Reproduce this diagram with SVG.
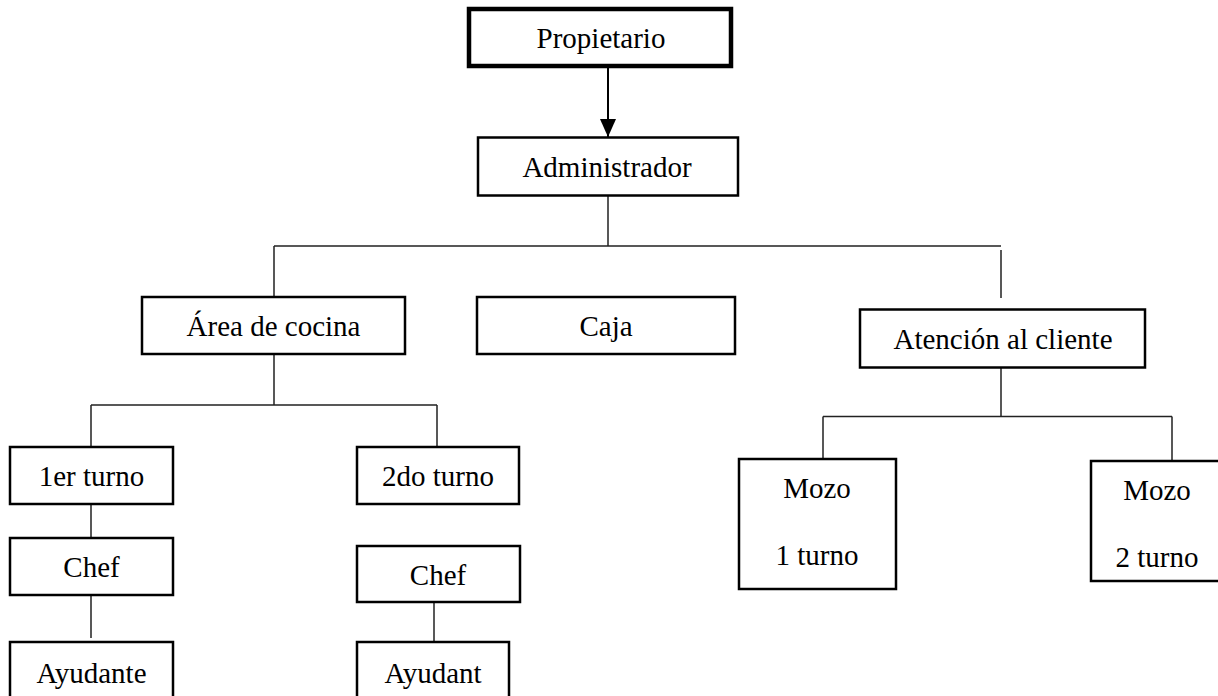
<svg xmlns="http://www.w3.org/2000/svg" width="1218" height="696" viewBox="0 0 1218 696">
  <style>
    .box { fill: #ffffff; stroke: #000000; stroke-width: 2.5; }
    .box-main { fill: #ffffff; stroke: #000000; stroke-width: 4.5; }
    .lbl { font-family: "Liberation Serif", "Times New Roman", serif; font-size: 29px; fill: #000000; text-anchor: middle; }
    .link { fill: none; stroke: #222222; stroke-width: 1.5; }
  </style>
  <defs>
    <marker id="arrowhead" markerWidth="18" markerHeight="16" refX="18" refY="8" orient="auto" markerUnits="userSpaceOnUse">
      <path d="M0,0 L18,8 L0,16 Z" fill="#000000"/>
    </marker>
  </defs>
  <rect width="1218" height="696" fill="#ffffff"/>

  <!-- connectors -->
  <g id="connectors">
    <line x1="608" y1="68" x2="608" y2="137" stroke="#000000" stroke-width="2" marker-end="url(#arrowhead)"/>
    <path class="link" d="M608,196 V246 M274,246 H1001 M274,246 V297 M1001,250 V298"/>
    <path class="link" d="M274,355 V405 M91,405 H437 M91,405 V447 M437,405 V447"/>
    <path class="link" d="M91,504 V538 M91,595 V638"/>
    <path class="link" d="M434,601 V642"/>
    <path class="link" d="M1001,368 V416.5 M823,416.5 H1172 M823,416.5 V459 M1172,416.5 V461"/>
  </g>

  <g id="propietario">
    <rect class="box-main" x="469" y="9" width="262" height="57"/>
    <text class="lbl" x="601" y="47.5">Propietario</text>
  </g>
  <g id="administrador">
    <rect class="box" x="478" y="137.5" width="260" height="58"/>
    <text class="lbl" x="607" y="176.5">Administrador</text>
  </g>
  <g id="area-cocina">
    <rect class="box" x="142" y="297" width="263" height="57"/>
    <text class="lbl" x="273.5" y="335.5">Área de cocina</text>
  </g>
  <g id="caja">
    <rect class="box" x="477" y="297" width="258" height="57"/>
    <text class="lbl" x="606" y="335.5">Caja</text>
  </g>
  <g id="atencion-cliente">
    <rect class="box" x="860" y="309.5" width="285" height="58"/>
    <text class="lbl" x="1003" y="348.5">Atención al cliente</text>
  </g>
  <g id="primer-turno">
    <rect class="box" x="10" y="447" width="163" height="57"/>
    <text class="lbl" x="91.5" y="485.5">1er turno</text>
  </g>
  <g id="segundo-turno">
    <rect class="box" x="357" y="447" width="162" height="57"/>
    <text class="lbl" x="438" y="485.5">2do turno</text>
  </g>
  <g id="chef-1">
    <rect class="box" x="10" y="538" width="163" height="57"/>
    <text class="lbl" x="91.5" y="576.5">Chef</text>
  </g>
  <g id="chef-2">
    <rect class="box" x="357" y="546" width="163" height="56"/>
    <text class="lbl" x="438" y="585">Chef</text>
  </g>
  <g id="ayudante-1">
    <rect class="box" x="10" y="642" width="163" height="60"/>
    <text class="lbl" x="91.5" y="683">Ayudante</text>
  </g>
  <g id="ayudante-2">
    <rect class="box" x="357" y="642" width="152" height="60"/>
    <text class="lbl" x="433" y="683">Ayudant</text>
  </g>
  <g id="mozo-1">
    <rect class="box" x="739" y="459" width="157" height="130"/>
    <text class="lbl" x="817" y="498">Mozo</text>
    <text class="lbl" x="817" y="565">1 turno</text>
  </g>
  <g id="mozo-2">
    <rect class="box" x="1091" y="461" width="140" height="120"/>
    <text class="lbl" x="1157" y="500">Mozo</text>
    <text class="lbl" x="1157" y="567">2 turno</text>
  </g>
</svg>
